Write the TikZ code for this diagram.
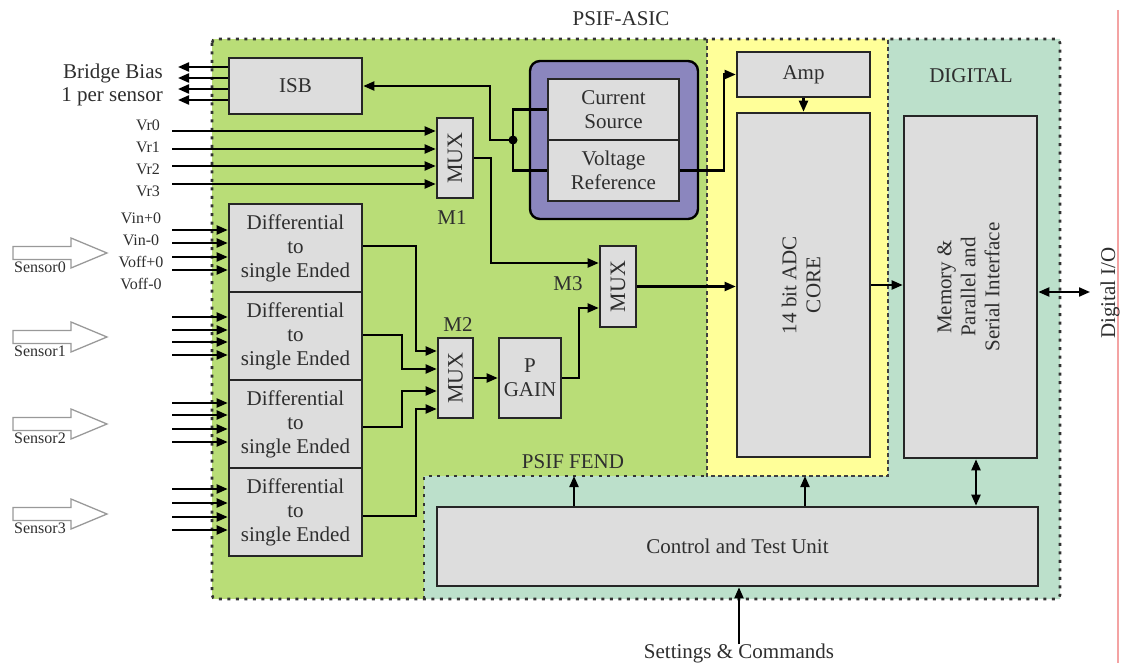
\documentclass[tikz,border=0pt]{standalone}
\usepackage{fontspec}
\setmainfont{Liberation Serif}
\usetikzlibrary{arrows.meta,calc}
\definecolor{gr}{HTML}{B9DD77}
\definecolor{ye}{HTML}{FFFF99}
\definecolor{te}{HTML}{BCE0CB}
\definecolor{pu}{HTML}{8B86BE}
\definecolor{bx}{HTML}{DDDDDD}
\definecolor{txt}{HTML}{2E2E2E}
\definecolor{pk}{HTML}{F4A3A3}
\newcommand\fsz[2]{\rmfamily\fontsize{#1}{#2}\selectfont}
\begin{document}
\begin{tikzpicture}[x=1pt,y=-1pt,
  box/.style={draw=black!85, line width=2.6pt, fill=bx, text=txt, font=\fsz{21}{24}, align=center, inner sep=0pt},
  lbl/.style={text=txt, font=\fsz{21}{24}, inner sep=0pt, align=center},
  small/.style={text=txt, font=\fsz{16}{18}, inner sep=0pt},
  wire/.style={line width=2.1pt, black},
  arr/.style={wire, -{Triangle[length=11pt,width=9pt]}},
  dbl/.style={wire, {Triangle[length=11pt,width=9pt]}-{Triangle[length=11pt,width=9pt]}},
  dotb/.style={line width=2.6pt, black!80, dash pattern=on 3pt off 5.5pt},
  dashb/.style={line width=1.3pt, black!75, dash pattern=on 4pt off 3pt},
  sensorarrow/.style={draw=black!40, line width=1.3pt, fill=white}]
\useasboundingbox (0,0) rectangle (1121,663);
% regions
\fill[gr] (212,39) rectangle (707,599);
\fill[ye] (707,39) rectangle (888,476);
\fill[te] (888,39) -- (1060,39) -- (1060,599) -- (424,599) -- (424,476) -- (888,476) -- cycle;
\draw[dashb] (707,39) -- (707,476) -- (888,476) -- (888,39);
\draw[dotb] (424,599) -- (424,476) -- (707,476);
\draw[dotb, rounded corners=4pt] (212,39) rectangle (1060,599);
\draw[pk, line width=1.5pt] (1118,10) -- (1118,663);
% titles
\node[lbl] (asic) at (621,19) {PSIF-ASIC};
\node[lbl] (dig) at (971,76) {DIGITAL};
\node[lbl] (fend) at (573,462) {PSIF FEND};
% boxes
\node[box, minimum width=133pt, minimum height=56pt] (isb) at (295.5,86) {ISB};
\node[draw=black, line width=2.4pt, fill=pu, rounded corners=10pt, minimum width=168pt, minimum height=158pt] (ref) at (614,140) {};
\node[box, minimum width=131pt, minimum height=61pt] (cs) at (613.5,109.5) {Current\\Source};
\node[box, minimum width=131pt, minimum height=61pt] (vref) at (613.5,170.5) {Voltage\\Reference};
\node[box, minimum width=133pt, minimum height=45pt] (amp) at (803.5,74.5) {Amp};
\node[box, minimum width=133pt, minimum height=344pt] (adc) at (803.5,285) {\rotatebox{90}{\begin{tabular}{@{}c@{}}14 bit ADC\\CORE\end{tabular}}};
\node[box, minimum width=133pt, minimum height=342pt] (mem) at (970.5,287) {\rotatebox{90}{\begin{tabular}{@{}c@{}}Memory \&\\Parallel and\\Serial Interface\end{tabular}}};
\node[box, minimum width=36pt, minimum height=80pt, font=\fsz{22}{24}] (m1) at (455,158) {\rotatebox{90}{MUX}};
\node[box, minimum width=35pt, minimum height=80pt, font=\fsz{22}{24}] (m2) at (455.5,378) {\rotatebox{90}{MUX}};
\node[box, minimum width=36pt, minimum height=81pt, font=\fsz{22}{24}] (m3) at (618,286.5) {\rotatebox{90}{MUX}};
\node[box, minimum width=62pt, minimum height=80pt] (pg) at (530,378) {P\\GAIN};
\node[box, minimum width=133pt, minimum height=88pt] (d1) at (295.5,248) {Differential\\to\\single Ended};
\node[box, minimum width=133pt, minimum height=88pt] (d2) at (295.5,336) {Differential\\to\\single Ended};
\node[box, minimum width=133pt, minimum height=88pt] (d3) at (295.5,424) {Differential\\to\\single Ended};
\node[box, minimum width=133pt, minimum height=88pt] (d4) at (295.5,512) {Differential\\to\\single Ended};
\node[box, minimum width=601pt, minimum height=79pt] (ctu) at (737.5,546.5) {Control and Test Unit};
% mux labels
\node[lbl] (lm1) at (452,218) {M1};
\node[lbl] (lm2) at (458,325) {M2};
\node[lbl] (lm3) at (568,284) {M3};
% bridge bias
\node[lbl, anchor=east] (bb) at (163,73) {Bridge Bias};
\node[lbl, anchor=east] (ps) at (163,97) {1 per sensor};
\foreach \y [count=\i] in {67,78,89,100}{
  \coordinate (bb\i) at (178,\y);
  \draw[arr] (bb\i -| isb.west) -- (bb\i);
}
% Vr inputs
\foreach \y/\ly [count=\i from 0] in {131/125,149/147,166/169,184/191}{
  \node[small] (vrl\i) at (148,\ly) {Vr\i};
  \coordinate (vr\i) at (172,\y);
  \draw[arr] (vr\i) -- (vr\i -| m1.west);
}
% sensor labels
\node[small] (vin1) at (141,218) {Vin+0};
\node[small] (vin2) at (141,240) {Vin-0};
\node[small] (vof1) at (141,262) {Voff+0};
\node[small] (vof2) at (141,284) {Voff-0};
% diff inputs
\foreach \b/\ya/\yb/\yc/\yd in {1/230/243/257/270, 2/317/330/342/355, 3/403/415/429/442, 4/489/503/517/530}{
  \foreach \y in {\ya,\yb,\yc,\yd}{
    \coordinate (in) at (172,\y);
    \draw[arr] (in) -- (in -| d\b.west);
  }
}
% sensor arrows
\foreach \ty/\s in {253/0,337/1,424/2,514/3}{
  \draw[sensorarrow] (13,\ty-6.5) -- (71,\ty-6.5) -- (71,\ty-15) -- (107,\ty) -- (71,\ty+15) -- (71,\ty+6.5) -- (13,\ty+6.5) -- cycle;
  \node[small] (sens\s) at (40,\ty+14) {Sensor\s};
}
% reference junction
\coordinate (jn) at (513,140);
\draw[wire] (cs.west) -| (jn) |- (vref.west);
\fill (jn) circle (4.5pt);
\draw[arr] (jn) -- ++(-23,0) |- (isb.east);
\draw[arr] (vref.east) -- ++(44,0) |- (amp.west);
\draw[arr] (amp.south) -- (adc.north);
% muxes
\draw[arr] (m1.east) -- ++(17,0) |- ($(m3.west)+(0,-23.5)$);
\draw[arr] (pg.east) -- ++(17,0) |- ($(m3.west)+(0,21.5)$);
\draw[arr] (m3.east) -- (m3.east -| adc.west);
\draw[arr] (m2.east) -- (pg.west);
\draw[arr] ($(d1.east)+(0,-2)$) -- ++(53,0) |- ($(m2.west)+(0,-27)$);
\draw[arr] ($(d2.east)+(0,-1)$) -- ++(39,0) |- ($(m2.west)+(0,-9)$);
\draw[arr] ($(d3.east)+(0,3)$) -- ++(39,0) |- ($(m2.west)+(0,13)$);
\draw[arr] ($(d4.east)+(0,4)$) -- ++(53,0) |- ($(m2.west)+(0,31)$);
% digital
\draw[arr] (adc.east) -- (adc.east -| mem.west);
\coordinate (io) at (1090,292);
\draw[dbl] (mem.east |- io) -- (io);
\node[lbl, rotate=90] (dio) at (1110,293) {Digital I/O};
% control
\coordinate (fendtop) at (574,476);
\coordinate (adcbot) at (805,476);
\draw[arr] (ctu.north -| fendtop) -- (fendtop);
\draw[arr] (ctu.north -| adcbot) -- (adcbot);
\draw[dbl] ([xshift=5.5pt]mem.south) -- ([xshift=5.5pt]mem.south |- ctu.north);
\node[lbl] (set) at (739,653) {Settings \& Commands};
\draw[arr] ([yshift=-1pt]set.north) -- (set.north |- ctu.south);
\end{tikzpicture}
\end{document}
